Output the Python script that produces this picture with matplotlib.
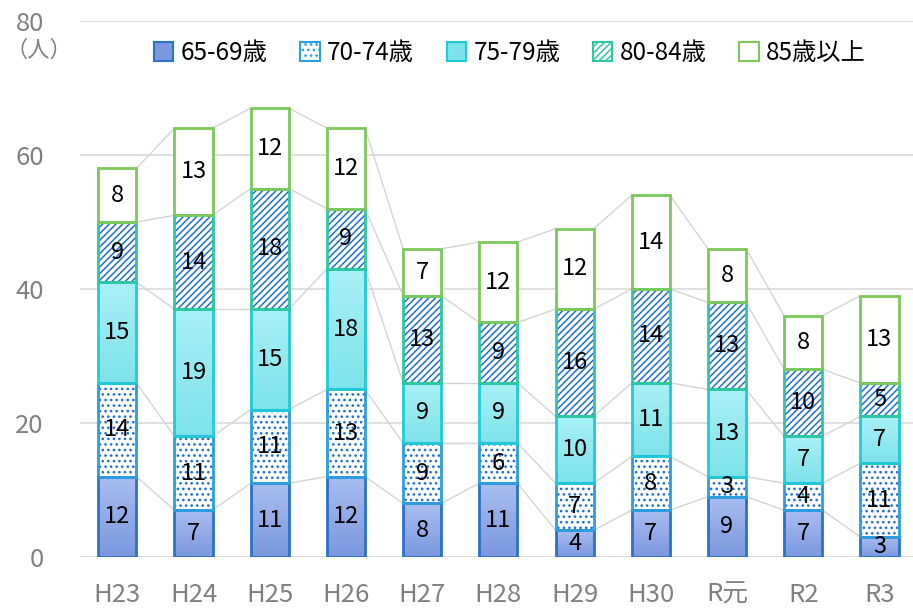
import numpy as np
import matplotlib
matplotlib.use("Agg")
import matplotlib.pyplot as plt
from matplotlib.patches import Patch
from matplotlib.colors import LinearSegmentedColormap

plt.rcParams['font.family'] = ['Noto Sans CJK JP', 'DejaVu Sans']
plt.rcParams['hatch.linewidth'] = 1.1

# data
years = ['H23', 'H24', 'H25', 'H26', 'H27', 'H28', 'H29', 'H30', 'R元', 'R2', 'R3']
age_65_69 = [12, 7, 11, 12, 8, 11, 4, 7, 9, 7, 3]
age_70_74 = [14, 11, 11, 13, 9, 6, 7, 8, 3, 4, 11]
age_75_79 = [15, 19, 15, 18, 9, 9, 10, 11, 13, 7, 7]
age_80_84 = [9, 14, 18, 9, 13, 9, 16, 14, 13, 10, 5]
age_85_up = [8, 13, 12, 12, 7, 12, 12, 14, 8, 8, 13]
labels = ['65-69歳', '70-74歳', '75-79歳', '80-84歳', '85歳以上']

series = [age_65_69, age_70_74, age_75_79, age_80_84, age_85_up]
# gradient top/bottom or None, hatch, hatch colour, edge colour
styles = [
    dict(grad=('#a9bdf0', '#7b98de'), hatch=None, hc=None, ec='#2a72c8'),
    dict(grad=None, hatch='...', hc='#1f6fd0', ec='#2b9ee0'),
    dict(grad=('#a8f1f6', '#7fe2ea'), hatch=None, hc=None, ec='#1ecbd6'),
    dict(grad=None, hatch='/////', hc='#1f6fd0', ec='#2dc8a0'),
    dict(grad=None, hatch=None, hc=None, ec='#7cc95a'),
]

fig = plt.figure(figsize=(9.13, 6.09), dpi=100)
ax = fig.add_axes([0.0876, 0.0854, 0.9124, 0.8801])

x = np.arange(len(years))
w = 0.5
bottoms = np.zeros(len(years))
tops = []

for vals, st in zip(series, styles):
    vals = np.array(vals, dtype=float)
    if st['grad'] is not None:
        cmap = LinearSegmentedColormap.from_list('g', [st['grad'][1], st['grad'][0]])
        grad = np.linspace(0, 1, 64).reshape(-1, 1)
        for xi, b, v in zip(x, bottoms, vals):
            ax.imshow(grad, cmap=cmap, aspect='auto', origin='lower',
                      extent=(xi - w / 2, xi + w / 2, b, b + v), zorder=2)
    elif st['hatch'] is not None:
        ax.bar(x, vals, w, bottom=bottoms, color='white', edgecolor=st['hc'],
               hatch=st['hatch'], linewidth=0, zorder=2)
    else:
        ax.bar(x, vals, w, bottom=bottoms, color='white', linewidth=0, zorder=2)
    ax.bar(x, vals, w, bottom=bottoms, fill=False, edgecolor=st['ec'],
           linewidth=2, zorder=3)
    for xi, b, v in zip(x, bottoms, vals):
        ax.text(xi, b + v / 2, f'{int(v)}', ha='center', va='center',
                fontsize=17, color='black', zorder=5)
    bottoms = bottoms + vals
    tops.append(bottoms.copy())

# series lines between bars
for t in tops:
    for i in range(len(years) - 1):
        ax.plot([x[i] + w / 2, x[i + 1] - w / 2], [t[i], t[i + 1]],
                color='#d4d4d4', lw=1, zorder=1)

ax.set_ylim(0, 80)
ax.set_xlim(-0.49, 10.44)
ax.set_yticks([0, 20, 40, 60, 80])
ax.set_xticks(x)
ax.set_xticklabels(years)
ax.yaxis.grid(True, color='#d9d9d9', lw=1.2, zorder=0)
ax.set_axisbelow(True)
for s in ax.spines.values():
    s.set_visible(False)
ax.tick_params(axis='both', length=0, colors='#808080', labelsize=18.5)
ax.tick_params(axis='y', pad=26)
ax.tick_params(axis='x', pad=18)

fig.text(0.043, 0.918, '（人）', ha='center', va='center', fontsize=16, color='#808080')

handles = []
for lab, st in zip(labels, styles):
    fc = st['grad'][1] if st['grad'] else 'white'
    if st['hatch']:
        handles.append(Patch(facecolor='white', edgecolor=st['ec'], hatch=st['hatch'],
                             linewidth=1.5, label=lab))
    else:
        handles.append(Patch(facecolor=fc, edgecolor=st['ec'], linewidth=1.5, label=lab))
ax.legend(handles=handles, loc='upper center', bbox_to_anchor=(0.516, 1.005), ncol=5,
          frameon=False, fontsize=17.5, handlelength=0.8, handleheight=0.8,
          handletextpad=0.3, columnspacing=1.35)

fig.savefig('out.png', dpi=100)
